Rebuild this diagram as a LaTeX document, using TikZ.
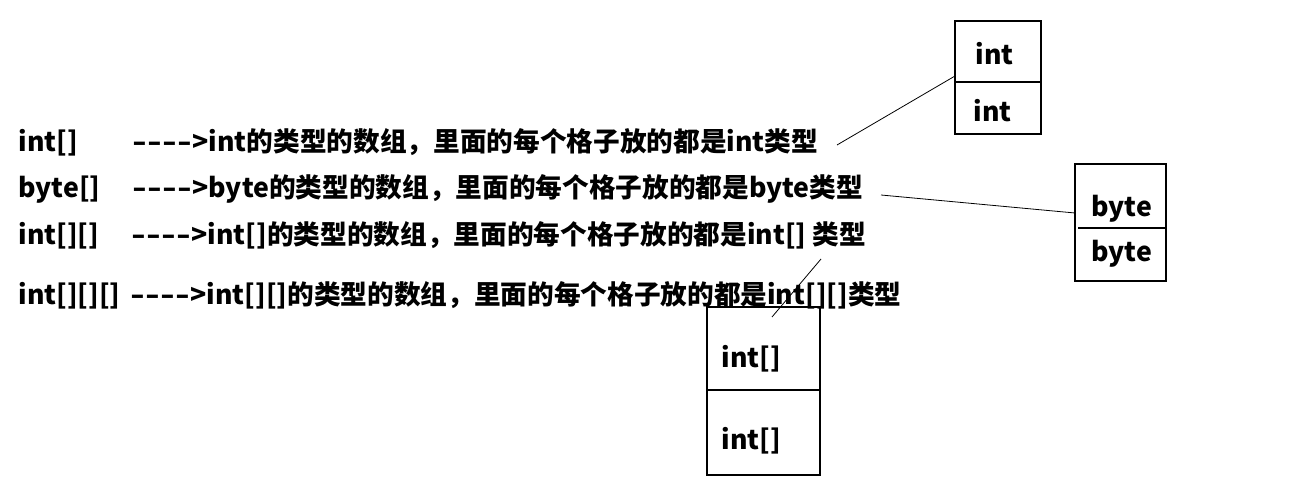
\documentclass[tikz,border=0pt]{standalone}
\usepackage{graphicx}
\usepackage{fontspec}
\setmainfont{Noto Sans CJK SC}
\newcommand\myhy{\makebox[11.25pt][l]{\scalebox{1.45}[1]{-}}}
\newcommand\myarr{\myhy\myhy\myhy\myhy>}
\begin{document}
\begin{tikzpicture}[x=0.75pt,y=-0.75pt,line width=0.75pt,
  txt/.style={font=\bfseries\fontsize{20}{24}\selectfont,inner sep=0,anchor=base west},
  boxline/.style={draw=black,line width=1pt},
  link/.style={draw=black,line width=0.6pt}]
\useasboundingbox[fill=white] (0,0) rectangle (1293,502);
% left text lines
\node[txt] (l1) at (18,152) {int[]};
\node[txt] (r1) at (132,152) {\myarr int的类型的数组，里面的每个格子放的都是int类型};
\node[txt] (l2) at (18,198) {byte[]};
\node[txt] (r2) at (132,198) {\myarr byte的类型的数组，里面的每个格子放的都是byte类型};
\node[txt] (l3) at (18,245) {int[][]};
\node[txt] (r3) at (131,245) {\myarr int[]的类型的数组，里面的每个格子放的都是int[] 类型};
\node[txt] (l4) at (18,305) {int[][][]};
\node[txt] (r4) at (130,305) {\myarr int[][]的类型的数组，里面的每个格子放的都是int[][]类型};
% int box
\coordinate (ia) at (955,21); \coordinate (ib) at (1041,134);
\draw[boxline] (ia) rectangle (ib);
\coordinate (im1) at (955,82); \coordinate (im2) at (1041,82);
\draw[boxline] (im1) -- (im2);
\node[txt] (it1) at (975,65) {int};
\node[txt] (it2) at (973,122) {int};
% byte box
\coordinate (ba) at (1075,164); \coordinate (bb) at (1166,281);
\draw[boxline] (ba) rectangle (bb);
\coordinate (bm1) at (1078,228); \coordinate (bm2) at (1166,228);
\draw[boxline] (bm1) -- (bm2);
\node[txt] (bt1) at (1091,217) {byte};
\node[txt] (bt2) at (1091,262) {byte};
% int[] box
\coordinate (aa) at (707,307); \coordinate (ab) at (820,475);
\draw[boxline] (aa) rectangle (ab);
\coordinate (am1) at (707,390); \coordinate (am2) at (820,390);
\draw[boxline] (am1) -- (am2);
\node[txt] (at1) at (721,368) {int[]};
\node[txt] (at2) at (721,450) {int[]};
% connectors
\coordinate (c1s) at (837,145); \coordinate (c1e) at (955,76);
\draw[link] (c1s) -- (c1e);
\coordinate (c2s) at (881,195); \coordinate (c2e) at (1075,213);
\draw[link] (c2s) -- (c2e);
\coordinate (c3s) at (821,259); \coordinate (c3e) at (772,317);
\draw[link] (c3s) -- (c3e);
\end{tikzpicture}
\end{document}
